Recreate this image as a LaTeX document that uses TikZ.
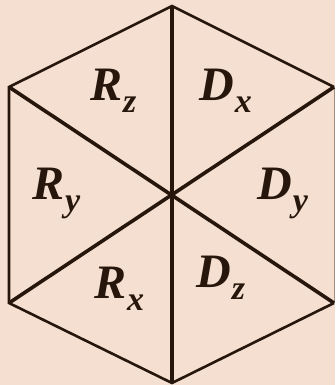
\documentclass[tikz,border=0pt]{standalone}
\usepackage{fontspec}
\setmainfont{Liberation Serif}
\definecolor{bg}{RGB}{244,223,208}
\definecolor{ink}{RGB}{38,22,12}
\newcommand{\lbl}[2]{{\fontsize{48}{48}\selectfont\bfseries\itshape #1\kern1pt\raisebox{-0.26em}{\fontsize{34}{34}\selectfont #2}}}
\begin{document}
\begin{tikzpicture}[x=1pt,y=-1pt,
  edge/.style={draw=ink,line width=2.6pt,line join=miter},
  spoke/.style={draw=ink,line width=3.6pt},
  lab/.style={anchor=base west,inner sep=0pt,text=ink}]
\fill[bg] (0,0) rectangle (335,385);
\useasboundingbox (0,0) rectangle (335,385);
\coordinate (T) at (172,6);
\coordinate (UL) at (9,87);
\coordinate (LL) at (9,303);
\coordinate (B) at (172,383);
\coordinate (UR) at (334,87);
\coordinate (LR) at (334,303);
\coordinate (C) at (172,195);
\draw[edge] (UR) -- (T) -- (UL) -- (LL) -- (B) -- (LR);
\draw[draw=ink!40!bg,line width=1pt] (LR) -- (UR);
\draw[spoke] (T) -- (B);
\draw[spoke] (UL) -- (LR);
\draw[spoke] (LL) -- (UR);
\node[lab] (rz) at (90,100) {\lbl{R}{z}};
\node[lab] (dx) at (199,100) {\lbl{D}{x}};
\node[lab] (ry) at (32,199) {\lbl{R}{y}};
\node[lab] (dy) at (257,199) {\lbl{D}{y}};
\node[lab] (rx) at (94,298) {\lbl{R}{x}};
\node[lab] (dz) at (196,287) {\lbl{D}{z}};
\end{tikzpicture}
\end{document}
